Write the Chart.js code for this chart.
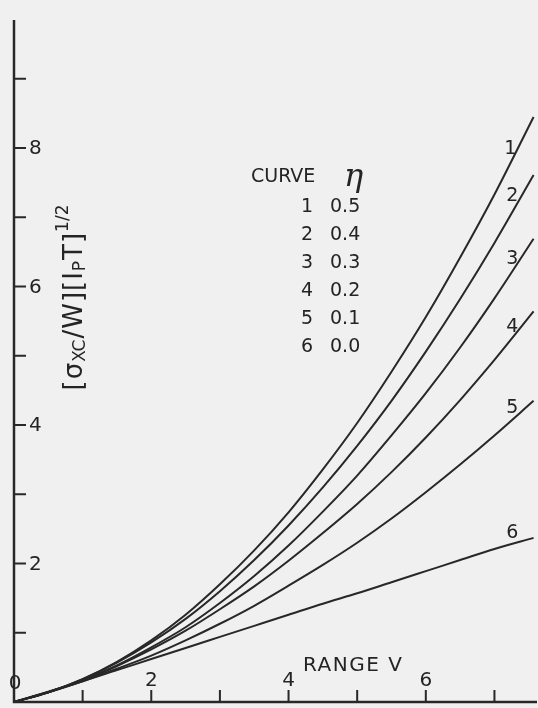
<!DOCTYPE html>
<html><head><meta charset="utf-8">
<script src="https://cdn.jsdelivr.net/npm/chart.js@4.4.0/dist/chart.umd.min.js"></script>
<style>html,body{margin:0;padding:0;background:#f0f0f0;}#wrap{width:538px;height:708px;}</style>
</head><body><div id="wrap"><canvas id="c" width="538" height="708"></canvas></div>
<script>
// ---- data ----
const rangeV = [0, 0.5, 1, 1.5, 2, 2.5, 3, 3.5, 4, 4.5, 5, 5.5, 6, 6.5, 7, 7.57];
const curve1 = [0, 0.14, 0.33, 0.58, 0.89, 1.26, 1.70, 2.19, 2.74, 3.36, 4.03, 4.77, 5.56, 6.42, 7.33, 8.45];
const curve2 = [0, 0.14, 0.33, 0.57, 0.86, 1.20, 1.60, 2.05, 2.55, 3.10, 3.70, 4.35, 5.06, 5.82, 6.63, 7.61];
const curve3 = [0, 0.14, 0.32, 0.53, 0.79, 1.08, 1.43, 1.82, 2.26, 2.75, 3.27, 3.85, 4.46, 5.12, 5.83, 6.69];
const curve4 = [0, 0.14, 0.31, 0.52, 0.76, 1.03, 1.34, 1.67, 2.04, 2.44, 2.86, 3.32, 3.82, 4.36, 4.94, 5.64];
const curve5 = [0, 0.14, 0.30, 0.48, 0.67, 0.89, 1.13, 1.39, 1.68, 1.98, 2.30, 2.65, 3.03, 3.43, 3.85, 4.35];
const curve6 = [0, 0.15, 0.30, 0.46, 0.62, 0.78, 0.94, 1.10, 1.26, 1.42, 1.57, 1.73, 1.89, 2.05, 2.21, 2.37];
const curveNames = ['1', '2', '3', '4', '5', '6'];
const etaValues = ['0.5', '0.4', '0.3', '0.2', '0.1', '0.0'];
const yTicks = [1, 2, 3, 4, 5, 6, 7, 8, 9];
const yTickLabels = ['2', '4', '6', '8'];
const xTicks = [1, 2, 3, 4, 5, 6, 7];
const xTickLabels = ['2', '4', '6'];

const series = [curve1, curve2, curve3, curve4, curve5, curve6];
const INK = '#282828';
const TEXT = '#242424';
const FONT = '"DejaVu Sans", sans-serif';

const datasets = series.map((s, i) => ({
  label: 'Curve ' + curveNames[i],
  data: rangeV.map((x, j) => ({ x: x, y: s[j] })),
  showLine: true,
  pointRadius: 0,
  borderColor: INK,
  borderWidth: 2,
  cubicInterpolationMode: 'monotone',
  clip: false
}));

// curve-number label anchors (data coordinates)
const labelAnchors = [[7.23, 7.98], [7.26, 7.30], [7.26, 6.40], [7.26, 5.41], [7.26, 4.25], [7.26, 2.44]];

const overlay = {
  id: 'overlay',
  beforeDraw(chart) {
    const ctx = chart.ctx;
    ctx.save();
    ctx.fillStyle = '#f0f0f0';
    ctx.fillRect(0, 0, chart.width, chart.height);
    ctx.restore();
  },
  afterDraw(chart) {
    const ctx = chart.ctx;
    const xs = chart.scales.x, ys = chart.scales.y;
    const x0 = xs.getPixelForValue(0), y0 = ys.getPixelForValue(0);
    ctx.save();
    ctx.strokeStyle = INK;
    ctx.fillStyle = TEXT;
    // axes
    ctx.lineWidth = 2.5;
    ctx.beginPath();
    ctx.moveTo(x0, ys.getPixelForValue(ys.max));
    ctx.lineTo(x0, y0);
    ctx.lineTo(xs.getPixelForValue(xs.max), y0);
    ctx.stroke();
    // ticks
    ctx.lineWidth = 2;
    ctx.beginPath();
    yTicks.forEach(v => { const p = ys.getPixelForValue(v); ctx.moveTo(x0, p); ctx.lineTo(x0 + 12, p); });
    xTicks.forEach(v => { const p = xs.getPixelForValue(v); ctx.moveTo(p, y0); ctx.lineTo(p, y0 - 12); });
    ctx.stroke();
    // tick labels
    ctx.font = '20px ' + FONT;
    ctx.textBaseline = 'middle';
    ctx.textAlign = 'left';
    yTickLabels.forEach(t => ctx.fillText(t, x0 + 15, ys.getPixelForValue(+t) + 1));
    ctx.textAlign = 'center';
    xTickLabels.forEach(t => ctx.fillText(t, xs.getPixelForValue(+t), y0 - 21));
    ctx.fillText('0', x0 + 1, y0 - 18);
    // axis title x
    ctx.font = '20px ' + FONT;
    ctx.textAlign = 'left';
    ctx.letterSpacing = '1.5px';
    ctx.fillText('RANGE V', 303, 666);
    ctx.letterSpacing = '0px';
    // curve labels
    ctx.font = '19px ' + FONT;
    ctx.textAlign = 'center';
    labelAnchors.forEach((a, i) => ctx.fillText(curveNames[i], xs.getPixelForValue(a[0]), ys.getPixelForValue(a[1])));
    // legend table
    ctx.font = '19px ' + FONT;
    ctx.textAlign = 'left';
    ctx.fillText('CURVE', 251, 177);
    ctx.font = 'italic 32px "DejaVu Serif", serif';
    ctx.fillText('η', 344, 178);
    ctx.font = '19px ' + FONT;
    curveNames.forEach((n, i) => {
      const yy = 207 + i * 28;
      ctx.textAlign = 'right';
      ctx.fillText(n, 313, yy);
      ctx.textAlign = 'left';
      ctx.fillText(etaValues[i], 330, yy);
    });
    // y axis title, rotated
    const parts = [
      ['[', 26, 0], ['σ', 26, 0], ['XC', 17, 6], ['/', 26, 0], ['W', 26, 0], [']', 26, 0], ['[', 26, 0],
      ['I', 26, 0], ['P', 17, 6], ['T', 26, 0], [']', 26, 0], ['1/2', 17, -11]
    ];
    let total = 0;
    parts.forEach(p => { ctx.font = p[1] + 'px ' + FONT; total += ctx.measureText(p[0]).width + 1; });
    ctx.translate(75, 297);
    ctx.rotate(-Math.PI / 2);
    ctx.textAlign = 'left';
    let cx = -total / 2;
    parts.forEach(p => {
      ctx.font = p[1] + 'px ' + FONT;
      ctx.fillText(p[0], cx, p[2]);
      cx += ctx.measureText(p[0]).width + 1;
    });
    ctx.restore();
  }
};

new Chart(document.getElementById('c'), {
  type: 'scatter',
  data: { datasets: datasets },
  options: {
    responsive: false,
    animation: false,
    layout: { padding: { left: 14, right: 1, top: 20, bottom: 6 } },
    scales: {
      x: { type: 'linear', min: 0, max: 7.62, display: false },
      y: { type: 'linear', min: 0, max: 9.85, display: false }
    },
    plugins: { legend: { display: false }, tooltip: { enabled: false } }
  },
  plugins: [overlay]
});
</script></body></html>
